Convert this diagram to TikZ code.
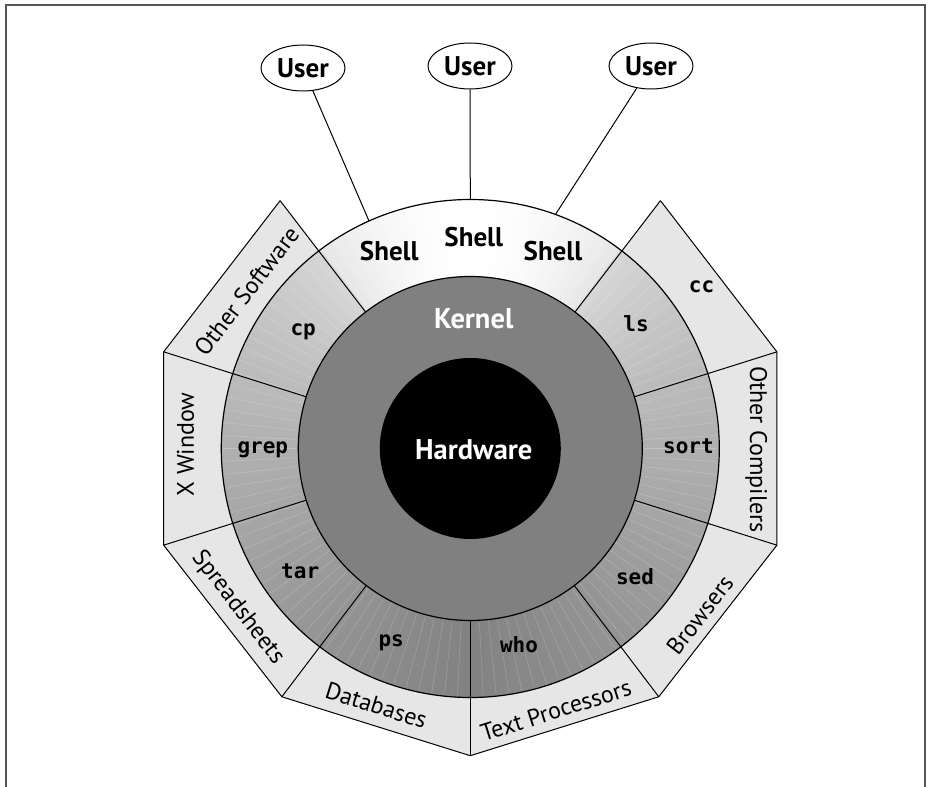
\documentclass[tikz,border=0pt]{standalone}
\usepackage{fontspec}
\setmainfont{PT Sans}
\newfontfamily\codefont{DejaVu Sans Mono}
\usetikzlibrary{shapes.geometric}

\definecolor{outerfill}{HTML}{E6E6E6}
\definecolor{kernelfill}{HTML}{808080}
\definecolor{framecol}{HTML}{555555}

\tikzset{
  labelbold/.style={font=\fontsize{27}{32}\selectfont\bfseries, inner sep=0pt},
  kernellabel/.style={font=\fontsize{28.5}{33}\selectfont\bfseries, inner sep=0pt, text=white},
  cmd/.style={font=\codefont\fontsize{21}{25}\selectfont\bfseries, inner sep=0pt},
  sector/.style={font=\fontsize{24}{28}\selectfont, inner sep=0pt},
  user/.style={draw, ellipse, line width=1pt, minimum width=84pt, minimum height=46pt,
    inner sep=0pt, font=\fontsize{27}{32}\selectfont\bfseries, fill=white},
  edge/.style={line width=1pt},
  rim/.style={line width=1.2pt},
  streak/.style={white, opacity=0.22, line width=0.5pt}
}

\begin{document}
\begin{tikzpicture}[x=1pt,y=1pt]
\useasboundingbox (-470.3,-338.5) rectangle (461.7,448.5);

% page frame, open at the bottom
\draw[framecol, line width=2pt] (-463.8,-338.5) -- (-463.8,443) -- (454.2,443) -- (454.2,-338.5);

% outer polygon corners
\coordinate (v1) at (52.5:312.4);
\coordinate (v2) at (17.5:321.5);
\coordinate (v3) at (-17.5:321.5);
\coordinate (v4) at (-52.8:311.7);
\coordinate (v5) at (-90:307.2);
\coordinate (v6) at (-127.2:311.7);
\coordinate (v7) at (-162.5:321.5);
\coordinate (v8) at (162.5:321.5);
\coordinate (v9) at (127.5:312.4);

% application band
\fill[outerfill] (v1) -- (v2) -- (v3) -- (v4) -- (v5) -- (v6) -- (v7) -- (v8) -- (v9)
  -- (127.5:249) arc[start angle=127.5, end angle=52.5, radius=249] -- cycle;

% utilities / shell ring, shaded from white at the top to grey at the bottom
\foreach \a in {0,1,...,359}{
  \pgfmathsetmacro\d{mod(\a+0.5-90+540,360)-180}
  \pgfmathsetmacro\t{abs(\d)}
  \pgfmathsetmacro\u{max((\t-37.5)/142.5,0.0001)}
  \pgfmathtruncatemacro\g{\t<37.5 ? 255-25*(\t/37.5)^2 : 215-85*(\u)^0.8}
  \fill[fill={rgb,255:red,\g;green,\g;blue,\g}]
    (\a:172) arc[start angle=\a, end angle=\a+1.3, radius=172]
    -- (\a+1.3:249) arc[start angle=\a+1.3, end angle=\a, radius=249] -- cycle;
}
% faint banding streaks of the blend
\foreach \a in {0,3,...,357}{
  \draw[streak] (\a:174) -- (\a:247);
}

% kernel and hardware
\fill[kernelfill] (0,0) circle (172);
\fill[black] (0,0) circle (90.5);

% outlines
\draw[edge] (v9) -- (v8) -- (v7) -- (v6) -- (v5) -- (v4) -- (v3) -- (v2) -- (v1);
\foreach \ang/\v in {52.5/v1,17.5/v2,-17.5/v3,-52.8/v4,-90/v5,-127.2/v6,-162.5/v7,162.5/v8,127.5/v9}{
  \draw[edge] (\ang:172) -- (\v);
}
\draw[rim] (0,0) circle (249);
\draw[rim] (0,0) circle (172);

% users and their shells
\node[user] (u1) at (-167.3,380.5) {User};
\node[user] (u2) at (-0.3,382.5) {User};
\node[user] (u3) at (180.7,382.5) {User};
\coordinate (s1) at (114:249);
\coordinate (s2) at (90:249);
\coordinate (s3) at (70:249);
\draw[edge] (u1) -- (s1);
\draw[edge] (u2) -- (s2);
\draw[edge] (u3) -- (s3);

\node[labelbold] (sh1) at (-81,197.5) {Shell};
\node[labelbold] (sh2) at (3.5,211) {Shell};
\node[labelbold] (sh3) at (82.7,197.5) {Shell};

\node[kernellabel] (kern) at (3.5,129.7) {Kernel};
\node[kernellabel] (hw) at (3.5,-0.8) {Hardware};

% utilities
\node[cmd] (cp) at (-167.1,117.2) {cp};
\node[cmd] (ls) at (165.8,124.7) {ls};
\node[cmd] (grep) at (-207.5,-0.8) {grep};
\node[cmd] (sort) at (218.2,2.7) {sort};
\node[cmd] (tar) at (-170.1,-122.8) {tar};
\node[cmd] (sed) at (164.7,-127.8) {sed};
\node[cmd] (ps) at (-79.1,-194.1) {ps};
\node[cmd] (who) at (48.7,-196.5) {who};
\node[cmd] (cc) at (231.2,161.4) {cc};

% applications
\node[sector, rotate=52.5] (osw) at (-223.6,157.3) {Other Software};
\node[sector, rotate=90] (xw) at (-284.8,4.2) {X Window};
\node[sector, rotate=-52.5] (ssh) at (-232.5,-158.9) {Spreadsheets};
\node[sector, rotate=-17.5] (db) at (-94,-256.8) {Databases};
\node[sector, rotate=17.5] (tp) at (85.6,-261.8) {Text Processors};
\node[sector, rotate=52.5] (br) at (229.5,-166.5) {Browsers};
\node[sector, rotate=-90] (oc) at (285.9,-0.8) {Other Compilers};
\end{tikzpicture}
\end{document}
